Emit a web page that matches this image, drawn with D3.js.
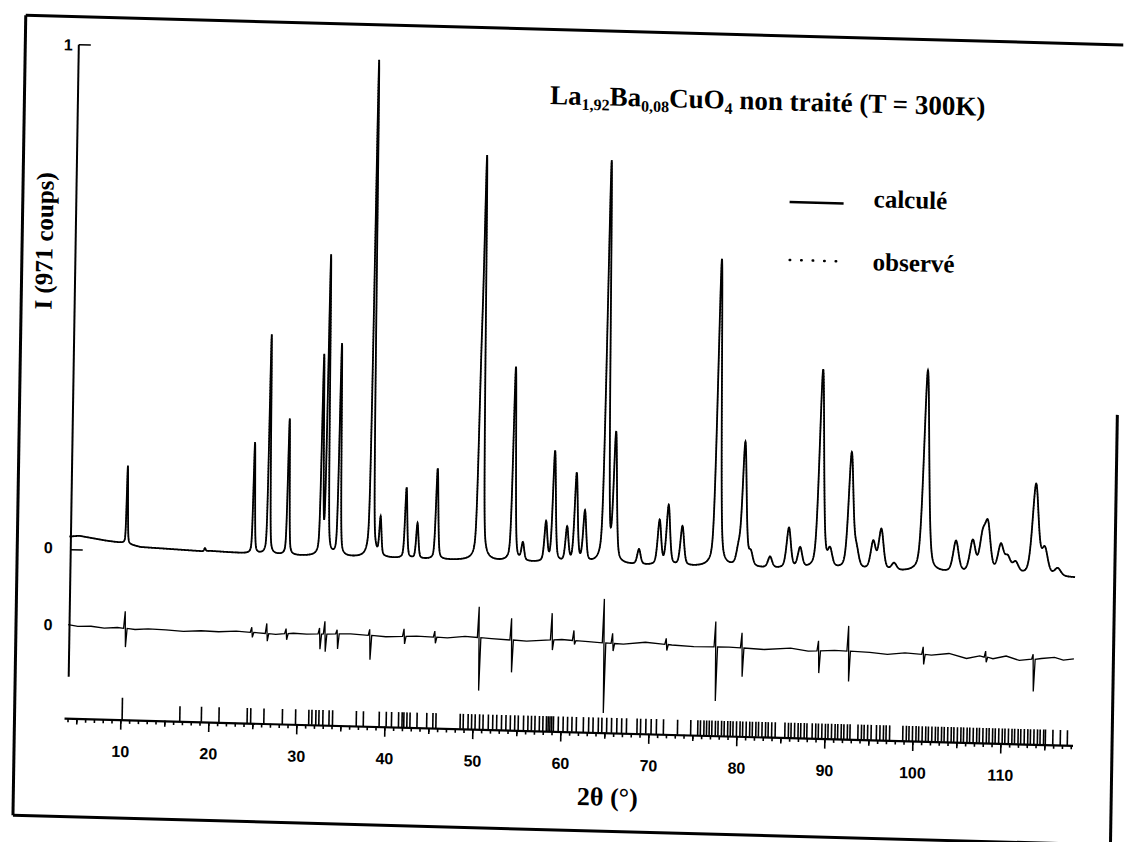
<!DOCTYPE html>
<html>
<head>
<meta charset="utf-8">
<script src="https://cdn.jsdelivr.net/npm/d3@7"></script>
<style>
  body { margin: 0; background: #fff; }
</style>
</head>
<body>
<script>
// reflections: 2theta (deg) and relative height (1 = 971 counts)
const peakPos = [10.4, 19.3, 24.8, 26.5, 28.7, 32.5, 33.1, 34.5, 38.2, 39.2, 42.1, 43.4, 45.6, 50.35, 50.65,
  54.3, 55.4, 58.0, 58.9, 60.4, 61.4, 62.4, 64.8, 65.8, 68.6, 70.9, 71.9, 73.5, 77.5, 79.9, 80.5, 81.3, 83.5,
  85.6, 86.9, 89.2, 90.3, 92.6, 93.3, 95.2, 96.1, 97.6, 101.1, 104.6, 106.5, 107.6, 108.2, 109.7, 110.5, 111.4,
  113.6, 114.7, 116.2];
const peakHeight = [0.155, 0.006, 0.22, 0.435, 0.27, 0.39, 0.59, 0.42, 0.985, 0.075, 0.14, 0.07, 0.18, 0.3, 0.75,
  0.385, 0.035, 0.078, 0.22, 0.068, 0.176, 0.1, 0.795, 0.25, 0.03, 0.088, 0.118, 0.078, 0.61, 0.03, 0.245, 0.025, 0.022,
  0.08, 0.04, 0.395, 0.033, 0.23, 0.033, 0.055, 0.08, 0.014, 0.4, 0.062, 0.062, 0.065, 0.09, 0.055, 0.03, 0.022,
  0.18, 0.05, 0.015];

const bgPos = [3.9, 5, 6.5, 8, 10, 12, 15, 19, 20, 24, 30, 40, 60, 80, 100, 118.2];
const bgVal = [0.026, 0.028, 0.024, 0.02, 0.016, 0.009, 0.007, 0.004, 0.005, 0.002, 0.0, 0.0, -0.001, -0.001, 0.0, -0.002];

// difference curve (obs - calc)
const diffPos = [3.9, 5, 6.5, 8, 9.5, 11.5, 13, 15, 17, 19, 21, 23, 25.5, 27.5, 29.5, 31, 36, 40, 43.5, 47,
  49, 52, 56, 60, 63, 67, 69.5, 72.5, 75, 79, 83, 86, 88, 91, 95, 97, 99, 102, 104, 106, 107.5, 109, 110.5, 112,
  114.5, 116, 117, 118.2];
const diffVal = [0.006, 0.003, 0.004, 0.001, 0.003, 0.0, 0.002, 0.001, -0.001, 0.001, 0.0, 0.002, 0.0, -0.002, 0.001,
  0.0, 0.003, -0.001, 0.002, 0.0, 0.004, 0.001, -0.002, 0.003, 0.0, -0.003, 0.002, -0.002, -0.004, -0.003, -0.006,
  -0.002, -0.007, -0.004, -0.006, -0.009, -0.005, -0.008, -0.004, -0.013, -0.007, -0.012, -0.006, -0.014, -0.009,
  -0.006, -0.011, -0.008];
const spikePos = [10.4, 24.8, 26.5, 28.7, 32.5, 33.1, 34.5, 38.2, 42.1, 45.6, 50.6, 54.3, 58.9, 61.4, 64.8, 65.8,
  71.9, 77.5, 80.5, 89.2, 92.6, 101.1, 108.2, 113.6];
const spikeUp = [0.034, 0.01, 0.02, 0.01, 0.012, 0.025, 0.008, 0.012, 0.015, 0.012, 0.061, 0.043, 0.053, 0.02, 0.087,
  0.02, 0.012, 0.05, 0.03, 0.02, 0.05, 0.015, 0.012, 0.01];
const spikeDown = [-0.037, -0.01, -0.015, -0.012, -0.03, -0.035, -0.03, -0.048, -0.015, -0.012, -0.105, -0.064, -0.02,
  -0.008, -0.139, -0.015, -0.012, -0.107, -0.057, -0.044, -0.06, -0.02, -0.01, -0.064];

// Bragg positions (tick row above the axis)
const braggPos = [10.2, 16.75, 19.2, 21.2, 24.4, 24.8, 26.3, 28.4, 29.9, 31.4, 31.75, 32.2, 32.55, 33.0, 33.7, 34.1,
  36.8, 37.6, 39.4, 40.2, 40.8, 41.6, 42.0, 42.2, 42.55, 42.9, 43.7, 44.8, 45.5, 45.85, 48.6, 48.95, 49.5, 49.9,
  50.3, 50.8, 51.2, 51.8, 52.3, 52.75, 53.3, 53.8, 54.3, 54.8, 55.2, 55.8, 56.3, 56.7, 57.1, 57.6, 58.0, 58.4, 58.6,
  58.8, 59.0, 59.2, 59.75, 60.3, 60.8, 61.3, 61.8, 62.6, 63.2, 63.7, 64.3, 64.7, 65.25, 65.8, 66.4, 66.95, 67.5,
  68.7, 69.1, 69.7, 70.3, 70.9, 71.7, 73.3, 74.8, 75.6, 75.9, 76.3, 76.6, 76.9, 77.2, 77.6, 77.9, 78.3, 78.6, 79.0,
  79.3, 79.6, 80.0, 80.4, 80.7, 81.1, 81.5, 81.8, 82.2, 82.5, 82.9, 83.3, 83.6, 84.0, 84.4, 85.5, 85.9, 86.2, 86.6,
  87.0, 87.3, 87.7, 88.0, 88.6, 89.0, 89.3, 89.7, 90.1, 90.4, 90.8, 91.2, 91.5, 91.9, 92.2, 92.6, 92.9, 93.8, 94.2,
  94.5, 94.9, 95.3, 95.9, 96.3, 96.7, 97.0, 97.4, 98.9, 99.3, 99.6, 100.0, 100.4, 100.7, 101.1, 101.5, 101.8, 102.2,
  102.6, 102.9, 103.3, 103.6, 104.0, 104.4, 104.7, 105.1, 105.5, 105.8, 106.2, 106.5, 106.9, 107.3, 107.6, 108.0,
  108.4, 108.7, 109.1, 109.4, 109.8, 110.2, 110.5, 110.9, 111.3, 111.6, 112.0, 112.3, 112.7, 113.1, 113.4, 113.8,
  114.2, 114.5, 114.9, 115.1, 115.95, 116.8, 117.6];

const xLabels = [10, 20, 30, 40, 50, 60, 70, 80, 90, 100, 110];

const width = 1131;
const height = 842;

const svg = d3.select("body").append("svg")
  .attr("width", width)
  .attr("height", height)
  .style("background", "#fff");

// the scanned page is slightly rotated / sheared
const g = svg.append("g")
  .attr("transform", "matrix(1,0.027,-0.016,1,6.74,-15.26)");

const x = d3.scaleLinear().domain([3.6, 118.2]).range([69.0, 1077.5]);
const y = d3.scaleLinear().domain([0, 1]).range([563, 58]);
const yd = d3.scaleLinear().domain([0, 1]).range([641, 136]);
const bg = d3.scaleLinear().domain(bgPos).range(bgVal);
const db = d3.scaleLinear().domain(diffPos).range(diffVal);

// pseudo-Voigt peak, width grows with angle
function calc(t) {
  let s = bg(t);
  for (let i = 0; i < peakPos.length; i++) {
    const p = peakPos[i];
    const w = 0.14 + 0.0025 * p + 0.00003 * p * p;
    const d = (t - p) / w;
    if (Math.abs(d) > 40) continue;
    s += peakHeight[i] * (0.4 / (1 + 4 * d * d) + 0.6 * Math.exp(-2.7726 * d * d));
  }
  return s;
}

const grid = d3.range(3.9, 118.2, 0.02);
const calcData = grid.map(t => [t, calc(t)]);

// frame of the scanned page
const frame = g.append("g").attr("stroke", "#000").attr("stroke-width", 3);
frame.append("line").attr("x1", 19.5).attr("y1", 30).attr("x2", 19.5).attr("y2", 830);
frame.append("line").attr("x1", 19.5).attr("y1", 30).attr("x2", 1117).attr("y2", 30);
frame.append("line").attr("x1", 19.5).attr("y1", 830).attr("x2", 1117).attr("y2", 830);
frame.append("line").attr("x1", 1117).attr("y1", 400).attr("x2", 1117).attr("y2", 830);

// y axis
g.append("line")
  .attr("x1", 73).attr("y1", y(1)).attr("x2", 73).attr("y2", 690)
  .attr("stroke", "#000").attr("stroke-width", 2);
g.selectAll(".ytick")
  .data([0, 1])
  .enter()
  .append("line")
  .attr("x1", 73).attr("x2", 85)
  .attr("y1", d => y(d)).attr("y2", d => y(d))
  .attr("stroke", "#000").attr("stroke-width", 1.6);

const tickFont = "'Liberation Sans', Arial, sans-serif";
g.append("text").attr("x", 67).attr("y", y(1) + 6).attr("text-anchor", "end")
  .attr("font-family", tickFont).attr("font-weight", "bold").attr("font-size", 16).text("1");
g.append("text").attr("x", 55).attr("y", y(0) + 4).attr("text-anchor", "end")
  .attr("font-family", tickFont).attr("font-weight", "bold").attr("font-size", 16).text("0");
g.append("text").attr("x", 56).attr("y", yd(0) + 3).attr("text-anchor", "end")
  .attr("font-family", tickFont).attr("font-weight", "bold").attr("font-size", 16).text("0");

// x axis
const axisY = 731.5;
const minorAxis = d3.axisBottom(x).tickValues(d3.range(4, 119, 1)).tickSize(4).tickFormat("");
const midAxis = d3.axisBottom(x).tickValues(d3.range(5, 119, 10)).tickSize(6).tickFormat("");
const majorAxis = d3.axisBottom(x).tickValues(xLabels).tickSize(10).tickSizeOuter(0).tickPadding(16);

g.append("g").attr("transform", `translate(0,${axisY})`).call(minorAxis)
  .call(a => a.select(".domain").remove());
g.append("g").attr("transform", `translate(0,${axisY})`).call(midAxis)
  .call(a => a.select(".domain").remove());
const xa = g.append("g").attr("transform", `translate(0,${axisY})`).call(majorAxis);
xa.select(".domain").attr("stroke-width", 2.2);
xa.selectAll("text")
  .attr("font-family", tickFont)
  .attr("font-weight", "bold")
  .attr("font-size", 16)
  .attr("fill", "#000");
g.selectAll(".tick line").attr("stroke-width", 1.6);

// Bragg reflection ticks
g.append("g").selectAll("line")
  .data(braggPos)
  .enter()
  .append("line")
  .attr("x1", d => x(d)).attr("x2", d => x(d))
  .attr("y1", axisY)
  .attr("y2", (d, i) => i === 0 ? axisY - 22 : axisY - 15)
  .attr("stroke", "#000").attr("stroke-width", 1.6);

// difference curve
const diffData = diffPos.map((p, i) => [p, diffVal[i]]);
spikePos.forEach((t, i) => {
  const b = db(t);
  diffData.push([t - 0.2, b], [t - 0.04, b + spikeUp[i]], [t + 0.04, b + spikeDown[i]], [t + 0.2, b]);
});
diffData.sort((a, b) => a[0] - b[0]);

g.append("path")
  .datum(diffData)
  .attr("fill", "none")
  .attr("stroke", "#000")
  .attr("stroke-width", 1.3)
  .attr("d", d3.line().x(d => x(d[0])).y(d => yd(d[1])));

// calculated (solid) and observed (dotted)
const line = d3.line().x(d => x(d[0])).y(d => y(d[1]));
g.append("path")
  .datum(calcData)
  .attr("fill", "none")
  .attr("stroke", "#000")
  .attr("stroke-width", 1.8)
  .attr("d", line);
g.append("path")
  .datum(calcData)
  .attr("fill", "none")
  .attr("stroke", "#000")
  .attr("stroke-width", 1.4)
  .attr("stroke-dasharray", "1,2")
  .attr("d", line);

// texts
const serif = "'Liberation Serif', 'Times New Roman', serif";
const title = g.append("text")
  .attr("x", 545).attr("y", 104.5)
  .attr("font-family", serif).attr("font-weight", "bold").attr("font-size", 27);
title.append("tspan").text("La");
title.append("tspan").attr("font-size", 16).attr("dy", 5).text("1,92");
title.append("tspan").attr("dy", -5).text("Ba");
title.append("tspan").attr("font-size", 16).attr("dy", 5).text("0,08");
title.append("tspan").attr("dy", -5).text("CuO");
title.append("tspan").attr("font-size", 16).attr("dy", 5).text("4");
title.append("tspan").attr("dy", -5).text(" non traité (T = 300K)");

// legend
g.append("line").attr("x1", 786).attr("x2", 840).attr("y1", 196).attr("y2", 196)
  .attr("stroke", "#000").attr("stroke-width", 2.5);
g.append("line").attr("x1", 787).attr("x2", 834).attr("y1", 254).attr("y2", 254)
  .attr("stroke", "#000").attr("stroke-width", 2.5)
  .attr("stroke-linecap", "round").attr("stroke-dasharray", "0.5,11");
g.append("text").attr("x", 870).attr("y", 199)
  .attr("font-family", serif).attr("font-weight", "bold").attr("font-size", 25).text("calculé");
g.append("text").attr("x", 870).attr("y", 262)
  .attr("font-family", serif).attr("font-weight", "bold").attr("font-size", 25).text("observé");

// axis titles
g.append("text")
  .attr("transform", "translate(50,255) rotate(-90)")
  .attr("text-anchor", "middle")
  .attr("font-family", serif).attr("font-weight", "bold").attr("font-size", 25)
  .text("I (971 coups)");
g.append("text")
  .attr("x", 583).attr("y", 804.5)
  .attr("font-family", serif).attr("font-weight", "bold").attr("font-size", 26)
  .text("2θ (°)");
</script>
</body>
</html>
